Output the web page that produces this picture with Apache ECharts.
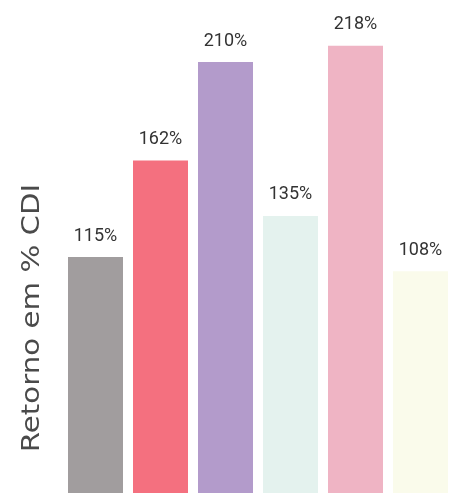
<!DOCTYPE html>
<html>
<head>
<meta charset="utf-8">
<script src="https://cdn.jsdelivr.net/npm/echarts@6/dist/echarts.min.js"></script>
<style>
  html, body { margin: 0; padding: 0; background: #ffffff; }
  #chart { width: 453px; height: 493px; }
</style>
</head>
<body>
<div id="chart"></div>
<script>
// Retorno de cada investimento, em % do CDI
const categories = ['A', 'B', 'C', 'D', 'E', 'F'];
const values = [115, 162, 210, 135, 218, 108];
const barColors = ['#a19d9e', '#f4707f', '#b39bcb', '#e4f2ee', '#efb4c4', '#fafbeb'];
const axisTitle = 'Retorno em % CDI';

const chart = echarts.init(document.getElementById('chart'), null, { renderer: 'canvas' });

chart.setOption({
  backgroundColor: '#ffffff',
  animation: false,
  grid: { left: 63, right: -2, top: 21, bottom: -8 },
  xAxis: {
    type: 'category',
    data: categories,
    show: false
  },
  yAxis: {
    type: 'value',
    min: 0,
    max: 230,
    show: false
  },
  graphic: [{
    type: 'text',
    x: 33,
    y: 318,
    rotation: Math.PI / 2,
    scaleX: 1.22,
    style: {
      text: axisTitle,
      fill: '#4a4a4a',
      font: '24px "DejaVu Sans", sans-serif',
      align: 'center',
      verticalAlign: 'middle'
    }
  }],
  series: [{
    type: 'bar',
    barWidth: 55,
    data: values.map((v, i) => ({ value: v, itemStyle: { color: barColors[i] } })),
    label: {
      show: true,
      position: 'top',
      distance: 12,
      formatter: p => p.value + '%',
      color: '#333333',
      fontFamily: 'Roboto, sans-serif',
      fontSize: 18
    }
  }]
});
</script>
</body>
</html>
